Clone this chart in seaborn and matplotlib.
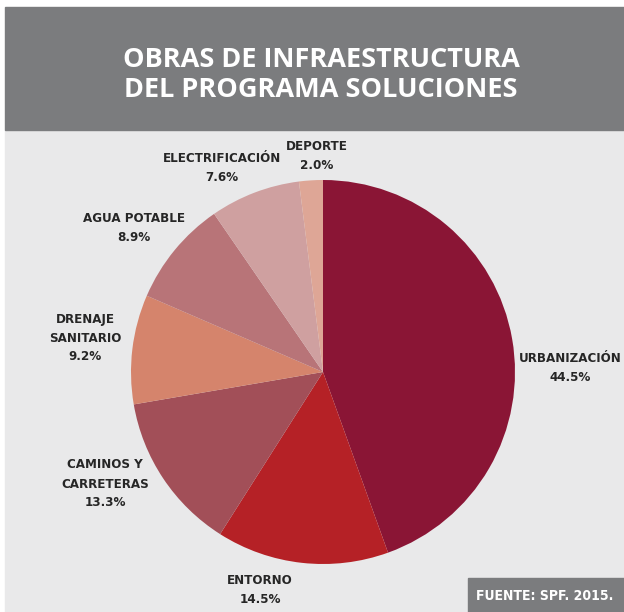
import matplotlib.pyplot as plt
import seaborn as sns
from matplotlib.patches import Rectangle

# datos
categorias = ['URBANIZACIÓN', 'ENTORNO', 'CAMINOS Y\nCARRETERAS', 'DRENAJE\nSANITARIO',
              'AGUA POTABLE', 'ELECTRIFICACIÓN', 'DEPORTE']
porcentajes = [44.5, 14.5, 13.3, 9.2, 8.9, 7.6, 2.0]
colores = ['#8a1535', '#b52126', '#a24f58', '#d5846c', '#b87478', '#cfa0a0', '#dea696']
titulo = 'OBRAS DE INFRAESTRUCTURA\nDEL PROGRAMA SOLUCIONES'
fuente = 'FUENTE: SPF. 2015.'

# posiciones de las etiquetas (pixeles, origen arriba a la izquierda)
pos_etiquetas = [(570, 368), (260, 590), (105, 484), (85, 338), (134, 228), (222, 168), (317, 156)]

sns.set_style('white')
plt.rcParams['font.family'] = ['DejaVu Sans']

fig = plt.figure(figsize=(6.24, 6.12), dpi=100)
fig.patch.set_facecolor('white')
ax = fig.add_axes([0, 0, 1, 1])

# fondo y banda del titulo
ax.add_patch(Rectangle((5, 0), 619, 612 - 130, color='#e9e9ea', zorder=0))
ax.add_patch(Rectangle((5, 612 - 130), 619, 123, color='#7b7c7e', zorder=0))
ax.text(321, 612 - 75, titulo, ha='center', va='center', color='white',
        fontsize=19.5, fontweight='bold', family='Open Sans', linespacing=1.22)

# pastel
cx, cy, r = 323, 612 - 372, 192
wedges, _ = ax.pie(porcentajes, colors=colores, startangle=90, counterclock=False,
                   center=(cx, cy), radius=r, wedgeprops=dict(linewidth=0))
ax.set_xlim(0, 624)
ax.set_ylim(0, 612)
ax.set_aspect('equal')
ax.axis('off')

for cat, p, (x, y) in zip(categorias, porcentajes, pos_etiquetas):
    ax.text(x, 612 - y, f'{cat}\n{p:.1f}%', ha='center', va='center', color='#262626',
            fontsize=9.5, fontweight='bold', family='DejaVu Sans', fontstretch='condensed',
            linespacing=1.6)

# fuente
ax.add_patch(Rectangle((468, 0), 156, 34, color='#7b7c7e', zorder=3))
ax.text(545, 16, fuente, ha='center', va='center', color='white', fontsize=10,
        fontweight='bold', family='DejaVu Sans', fontstretch='condensed', zorder=4)

fig.savefig('out.png', dpi=100)
